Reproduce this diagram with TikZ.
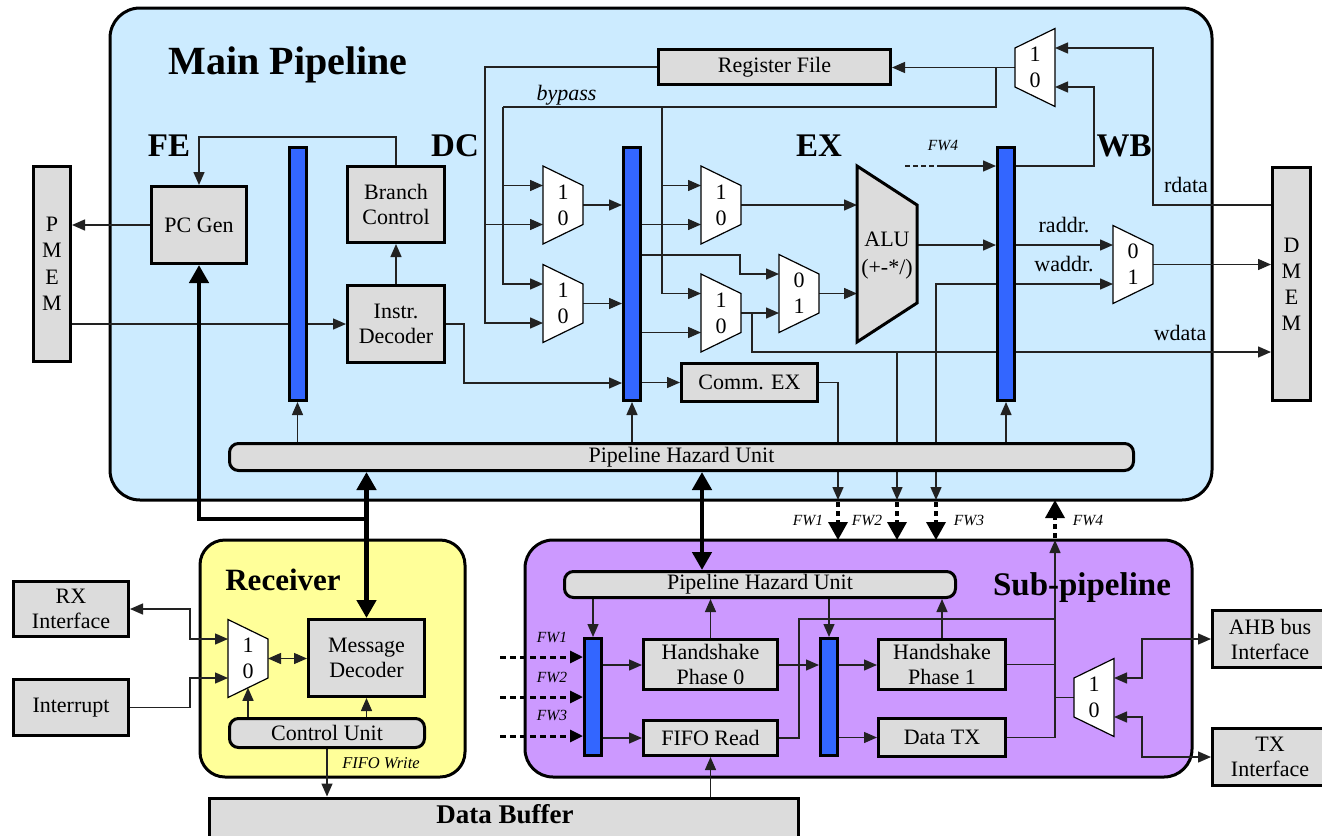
\documentclass[tikz,border=0pt]{standalone}
\usepackage{fontspec}
\setmainfont{Liberation Serif}
\usetikzlibrary{arrows.meta}

\definecolor{pipeblue}{HTML}{CCEBFF}
\definecolor{rxyellow}{HTML}{FFFF99}
\definecolor{subpurple}{HTML}{CC99FF}
\definecolor{blockgray}{HTML}{DCDCDC}
\definecolor{regblue}{HTML}{3366FF}
\definecolor{wirec}{HTML}{222222}

\pgfdeclarelayer{back}
\pgfdeclarelayer{wires}
\pgfsetlayers{back,wires,main}

\newcommand\fsize[2]{\fontsize{#1pt}{#2pt}\selectfont}

% multiplexer opening to the right: name, left x, centre y, upper label, lower label
\newcommand\muxright[5]{%
  \draw[muxshape] (#2,#3-39) -- (#2+40,#3-19.5) -- (#2+40,#3+19.5) -- (#2,#3+39) -- cycle;
  \coordinate (#1-a) at (#2,#3-19.5);
  \coordinate (#1-c) at (#2,#3+19.5);
  \coordinate (#1-out) at (#2+40,#3);
  \coordinate (#1-bot) at (#2+20,#3+29.25);
  \node[muxlbl] (#1-t) at (#2+20,#3-13) {#4};
  \node[muxlbl] (#1-b) at (#2+20,#3+13) {#5};
}
% multiplexer opening to the left: name, right x, centre y, upper label, lower label
\newcommand\muxleft[5]{%
  \draw[muxshape] (#2,#3-39) -- (#2-40,#3-19.5) -- (#2-40,#3+19.5) -- (#2,#3+39) -- cycle;
  \coordinate (#1-a) at (#2,#3-19.5);
  \coordinate (#1-c) at (#2,#3+19.5);
  \coordinate (#1-out) at (#2-40,#3);
  \node[muxlbl] (#1-t) at (#2-20,#3-13) {#4};
  \node[muxlbl] (#1-b) at (#2-20,#3+13) {#5};
}

\tikzset{
  block/.style={draw=black, line width=3pt, fill=blockgray, inner sep=0pt, align=center, font=\fsize{22}{25}},
  rblock/.style={block, rounded corners=9pt},
  regbar/.style={draw=black, line width=3pt, fill=regblue, inner sep=0pt, minimum width=17pt},
  container/.style={draw=black, line width=3pt},
  alushape/.style={draw=black, line width=3pt, fill=blockgray},
  muxshape/.style={draw=black, line width=1.2pt, fill=white},
  muxlbl/.style={inner sep=0pt, font=\fsize{22}{22}},
  wire/.style={draw=wirec, line width=1.4pt},
  arrowwire/.style={wire, -{Triangle[length=13pt,width=11pt]}},
  biwire/.style={wire, {Triangle[length=13pt,width=11pt]}-{Triangle[length=13pt,width=11pt]}},
  busline/.style={draw=black, line width=4.5pt},
  busarrow/.style={busline, -{Triangle[length=18pt,width=19pt]}},
  busbi/.style={busline, {Triangle[length=18pt,width=19pt]}-{Triangle[length=18pt,width=19pt]}},
  fwlink/.style={draw=black, line width=3.5pt, dash pattern=on 5pt off 4pt, -{Triangle[length=18pt,width=19pt]}},
  fwin/.style={draw=black, line width=3pt, dash pattern=on 6pt off 4pt, -{Triangle[length=13pt,width=12pt]}},
  stagetitle/.style={inner sep=0pt, anchor=base, font=\bfseries\fsize{33}{33}},
  siglbl/.style={inner sep=0pt, anchor=base, font=\fsize{22}{22}},
  fwlbl/.style={inner sep=0pt, anchor=base, font=\itshape\fsize{15.5}{15.5}},
}

\begin{document}
\begin{tikzpicture}[x=1pt,y=-1pt]
\useasboundingbox (0,0) rectangle (1322,835);

% ---------- enclosing blocks ----------
\begin{pgfonlayer}{back}
  \fill[white] (0,0) rectangle (1322,835);
  \draw[container, fill=pipeblue, rounded corners=30pt] (110,8) rectangle (1212,500);
  \draw[container, fill=rxyellow, rounded corners=25pt] (200,540) rectangle (465,777);
  \draw[container, fill=subpurple, rounded corners=28pt] (525,540) rectangle (1192,777);
\end{pgfonlayer}

% ---------- titles ----------
\node[stagetitle, font=\bfseries\fsize{40}{40}] (tmain) at (288,74) {Main Pipeline};
\node[stagetitle] (tfe) at (169,156) {FE};
\node[stagetitle] (tdc) at (455,156) {DC};
\node[stagetitle] (tex) at (819,156) {EX};
\node[stagetitle] (twb) at (1124,156) {WB};
\node[stagetitle, font=\bfseries\fsize{31}{31}] (trx) at (283,590) {Receiver};
\node[stagetitle] (tsub) at (1082,595) {Sub-pipeline};

% ---------- main pipeline ----------
\node[block, minimum width=37pt, minimum height=195pt, font=\fsize{22}{26.5}] (pmem) at (52,264) {P\\M\\E\\M};
\node[block, minimum width=95pt, minimum height=77pt] (pcgen) at (199,225) {PC Gen};
\node[regbar, minimum height=253pt] (r1) at (297.5,274) {};
\node[block, minimum width=97pt, minimum height=76pt] (brc) at (396,204.5) {Branch\\Control};
\node[block, minimum width=97pt, minimum height=77pt] (idec) at (396,324) {Instr.\\Decoder};
\node[regbar, minimum height=253pt] (r2) at (632,274) {};
\node[block, minimum width=232pt, minimum height=35pt] (rf) at (774.5,67) {Register File};
\node[block, minimum width=136pt, minimum height=38pt] (comm) at (749.5,382.5) {Comm. EX};
\node[regbar, minimum height=253pt] (r3) at (1006,274) {};
\node[block, minimum width=38pt, minimum height=233pt, font=\fsize{22}{26}] (dmem) at (1291.5,284) {D\\M\\E\\M};
\node[rblock, minimum width=904pt, minimum height=27pt] (mphu) at (681.5,457) {Pipeline Hazard Unit};

% ALU
\draw[alushape] (857,166) -- (917,205) -- (917,303) -- (857,342) -- cycle;
\coordinate (alu-a) at (857,205);
\coordinate (alu-b) at (857,293.5);
\coordinate (alu-o) at (917,245);
\node[inner sep=0pt, align=center, font=\fsize{22}{28}] (alutxt) at (887,256) {ALU\\(+-*/)};

\muxright{muxA1}{543}{205}{1}{0}
\muxright{muxA2}{543}{303.5}{1}{0}
\muxright{muxB1}{701}{205}{1}{0}
\muxright{muxB2}{701}{313}{1}{0}
\muxright{muxC}{779}{293.5}{0}{1}
\muxright{muxD}{1113}{264.5}{0}{1}
\muxleft{muxWB}{1055}{67.5}{1}{0}

% ---------- receiver ----------
\node[block, minimum width=115pt, minimum height=55pt] (rx) at (71,609) {RX\\Interface};
\node[block, minimum width=115pt, minimum height=56pt] (intr) at (71,707.5) {Interrupt};
\node[block, minimum width=116pt, minimum height=77pt] (mdec) at (366.5,658) {Message\\Decoder};
\node[rblock, minimum width=195pt, minimum height=29pt] (cu) at (327,733) {Control Unit};
\muxright{muxR}{228}{658.5}{1}{0}
\node[block, minimum width=589pt, minimum height=50pt, anchor=north] (dbuf) at (504,796.5) {};
\node[stagetitle, font=\bfseries\fsize{27}{27}] (dbuftxt) at (505,823) {Data Buffer};

% ---------- sub-pipeline ----------
\node[rblock, minimum width=391pt, minimum height=26pt] (sphu) at (760,584.5) {Pipeline Hazard Unit};
\node[regbar, minimum height=117pt] (sb1) at (593,697) {};
\node[regbar, minimum height=117pt] (sb2) at (829,697) {};
\node[block, minimum width=134pt, minimum height=50pt] (hs0) at (710.5,664.5) {Handshake\\Phase 0};
\node[block, minimum width=134pt, minimum height=35pt] (fifo) at (710.5,738) {FIFO Read};
\node[block, minimum width=127pt, minimum height=50pt] (hs1) at (942,664.5) {Handshake\\Phase 1};
\node[block, minimum width=127pt, minimum height=38pt] (dtx) at (942,737.5) {Data TX};
\node[block, minimum width=115pt, minimum height=57pt] (ahb) at (1270,639) {AHB bus\\Interface};
\node[block, minimum width=115pt, minimum height=57pt] (tx) at (1270,757) {TX\\Interface};
\muxleft{muxS}{1114}{697.5}{1}{0}

% ---------- signal labels ----------
\node[siglbl, font=\itshape\fsize{22}{22}] (lbyp) at (566.5,100) {bypass};
\node[siglbl] (lrdata) at (1186,192) {rdata};
\node[siglbl] (lraddr) at (1064,232) {raddr.};
\node[siglbl] (lwaddr) at (1064,271) {waddr.};
\node[siglbl] (lwdata) at (1180,340) {wdata};
\node[fwlbl] (lfw4a) at (943,150) {FW4};
\node[fwlbl] (lfw1) at (808,525) {FW1};
\node[fwlbl] (lfw2) at (867,525) {FW2};
\node[fwlbl] (lfw3) at (969,525) {FW3};
\node[fwlbl] (lfw4) at (1088,525) {FW4};
\node[fwlbl] (lsfw1) at (552,642) {FW1};
\node[fwlbl] (lsfw2) at (552,682) {FW2};
\node[fwlbl] (lsfw3) at (552,720) {FW3};
\node[fwlbl, font=\itshape\fsize{16.5}{16.5}] (lfifow) at (381,768) {FIFO Write};

% forwarding link end points
\coordinate (fw1) at (838,500);
\coordinate (fw2) at (897,500);
\coordinate (fw3) at (936,500);
\coordinate (fw4) at (1055,500);
\coordinate (fw1s) at (838,540);
\coordinate (fw2s) at (897,540);
\coordinate (fw3s) at (936,540);
\coordinate (fw4s) at (1055,540);
\coordinate (fwin1) at (500,657);
\coordinate (fwin2) at (500,697);
\coordinate (fwin3) at (500,736);
\coordinate (fw4in) at (905,166);

% ---------- connections ----------
\begin{pgfonlayer}{wires}
  % fetch / decode
  \draw[arrowwire] (pcgen.west) -- (pmem.east |- pcgen.west);
  \draw[arrowwire] (pmem.east |- idec.west) -- (idec.west);
  \draw[arrowwire] (brc.north) -- (brc.north |- 0,137) -| (pcgen.north);
  \draw[arrowwire] (idec.north) -- (brc.south);
  \draw[arrowwire] (idec.east) -- (idec.east -| 464,0) |- (r2.west |- 0,383);
  \draw[arrowwire] (r1.south |- mphu.north) -- (r1.south);
  \draw[arrowwire] (r2.south |- mphu.north) -- (r2.south);
  \draw[arrowwire] (r3.south |- mphu.north) -- (r3.south);

  % register file read and bypass
  \draw[arrowwire] (rf.west) -- (rf.west -| 485,0) |- (muxA2-c);
  \draw[arrowwire] (muxA1-c -| 485,0) -- (muxA1-c);
  \draw[arrowwire] (muxWB-out) -- (rf.east |- muxWB-out);
  \draw[wire] (muxWB-out -| 996,0) -- (996,107) -- (503,107);
  \draw[arrowwire] (503,107) |- (muxA2-a);
  \draw[arrowwire] (muxA1-a -| 503,0) -- (muxA1-a);
  \draw[arrowwire] (662,107) |- (muxB2-a);
  \draw[arrowwire] (muxB1-a -| 662,0) -- (muxB1-a);

  % decode -> execute
  \draw[arrowwire] (muxA1-out) -- (r2.west |- muxA1-out);
  \draw[arrowwire] (muxA2-out) -- (r2.west |- muxA2-out);
  \draw[arrowwire] (r2.east |- muxB1-c) -- (muxB1-c);
  \draw[arrowwire] (r2.east |- muxB2-c) -- (muxB2-c);
  \draw[arrowwire] (r2.east |- 0,255) -- (740,255) |- (muxC-a);
  \draw[arrowwire] (r2.east |- comm.west) -- (comm.west);
  \draw[arrowwire] (muxB1-out) -- (alu-a);
  \draw[arrowwire] (muxB2-out) -- (muxC-c);
  \draw[arrowwire] (muxC-out) -- (alu-b);
  \draw[arrowwire] (muxB2-out -| 752,0) |- (dmem.west |- 0,352);
  \draw[arrowwire] (alu-o) -- (r3.west |- alu-o);

  % write-back and memory
  \draw[wire, dash pattern=on 5pt off 3pt] (fw4in) -- (938,166);
  \draw[arrowwire] (938,166) -- (r3.west |- fw4in);
  \draw[arrowwire] (r3.east |- fw4in) -- (1094,166) |- (muxWB-c);
  \draw[arrowwire] (dmem.west |- 0,205) -- (1153,205) |- (muxWB-a);
  \draw[arrowwire] (r3.east |- muxD-a) -- (muxD-a);
  \draw[arrowwire] (r3.east |- muxD-c) -- (muxD-c);
  \draw[arrowwire] (muxD-out) -- (dmem.west |- muxD-out);

  % forwarding to the sub-pipeline
  \draw[arrowwire] (comm.east) -| (fw1);
  \draw[arrowwire] (fw2 |- 0,352) -- (fw2);
  \draw[arrowwire] (r3.west |- muxD-c) -| (fw3);
  \draw[fwlink] (838,502) -- (fw1s);
  \draw[fwlink] (897,502) -- (fw2s);
  \draw[fwlink] (936,502) -- (fw3s);
  \draw[fwlink] (1055,538) -- (fw4);

  % hazard unit buses
  \draw[busbi] (mphu.south -| 702,0) -- (sphu.north -| 702,0);
  \draw[busbi] (mdec.north |- mphu.south) -- (mdec.north);
  \draw[busarrow] (mdec.north |- 0,519) -| (pcgen.south);

  % sub-pipeline
  \draw[arrowwire] (sb1.north |- sphu.south) -- (sb1.north);
  \draw[arrowwire] (sb2.north |- sphu.south) -- (sb2.north);
  \draw[arrowwire] (hs0.north) -- (hs0.north |- sphu.south);
  \draw[arrowwire] (hs1.north) -- (hs1.north |- sphu.south);
  \draw[fwin] (fwin1) -- (sb1.west |- fwin1);
  \draw[fwin] (fwin2) -- (sb1.west |- fwin2);
  \draw[fwin] (fwin3) -- (sb1.west |- fwin3);
  \draw[arrowwire] (sb1.east |- 0,665) -- (hs0.west |- 0,665);
  \draw[arrowwire] (sb1.east |- fifo.west) -- (fifo.west);
  \draw[arrowwire] (hs0.east |- 0,665) -- (sb2.west |- 0,665);
  \draw[arrowwire] (sb2.east |- 0,665) -- (hs1.west |- 0,665);
  \draw[arrowwire] (sb2.east |- dtx.west) -- (dtx.west);
  \draw[wire] (fifo.east) -| (799,619) -- (1055,619);
  \draw[wire] (hs1.east) -- (hs1.east -| fw4s);
  \draw[wire] (muxS-out) -- (muxS-out -| fw4s);
  \draw[arrowwire] (dtx.east) -| (fw4s);
  \draw[biwire] (muxS-a) -- (muxS-a -| 1142,0) |- (ahb.west);
  \draw[biwire] (muxS-c) -- (muxS-c -| 1142,0) |- (tx.west);
  \draw[arrowwire] (dbuf.north -| fifo.south) -- (fifo.south);

  % receiver
  \draw[biwire] (muxR-out) -- (mdec.west |- muxR-out);
  \draw[biwire] (muxR-a) -- (muxR-a -| 190,0) |- (rx.east);
  \draw[arrowwire] (intr.east) -- (intr.east -| 190,0) |- (muxR-c);
  \draw[arrowwire] (cu.north -| muxR-bot) -- (muxR-bot);
  \draw[arrowwire] (cu.north -| mdec.south) -- (mdec.south);
  \draw[arrowwire] (cu.south) -- (dbuf.north -| cu.south);
\end{pgfonlayer}
\end{tikzpicture}
\end{document}
